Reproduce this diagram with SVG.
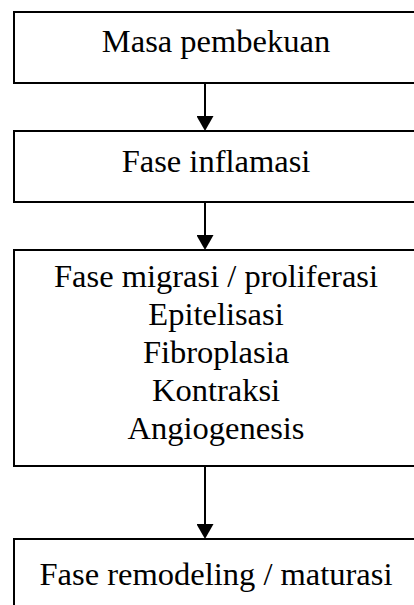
<svg xmlns="http://www.w3.org/2000/svg" width="414" height="605" viewBox="0 0 414 605">
<style>
.box{fill:#fff;stroke:#000;stroke-width:2}
.t{font-family:"Liberation Serif","Times New Roman",serif;font-size:32.5px;fill:#000;text-anchor:middle}
.line{stroke:#000;stroke-width:2;fill:none;marker-end:url(#ah)}
</style>
<defs>
<marker id="ah" markerUnits="userSpaceOnUse" markerWidth="15" markerHeight="17" refX="12" refY="8.5" orient="auto" viewBox="0 0 15 17">
<path d="M0,0 L15,8.5 L0,17 Z" fill="#000"/>
</marker>
</defs>
<rect width="414" height="605" fill="#fff"/>
<g id="connectors">
<line class="line" x1="205" y1="83" x2="205" y2="128"/>
<line class="line" x1="205" y1="202" x2="205" y2="247"/>
<line class="line" x1="205" y1="466" x2="205" y2="536"/>
</g>
<g id="n1">
<rect class="box" x="14" y="12" width="410" height="71"/>
<text class="t" x="216" y="52">Masa pembekuan</text>
</g>
<g id="n2">
<rect class="box" x="14" y="131" width="410" height="71"/>
<text class="t" x="216" y="172">Fase inflamasi</text>
</g>
<g id="n3">
<rect class="box" x="14" y="250" width="410" height="216"/>
<text class="t" x="216" y="287">Fase migrasi / proliferasi</text>
<text class="t" x="216" y="325">Epitelisasi</text>
<text class="t" x="216" y="363">Fibroplasia</text>
<text class="t" x="216" y="401">Kontraksi</text>
<text class="t" x="216" y="439">Angiogenesis</text>
</g>
<g id="n4">
<rect class="box" x="14" y="539" width="410" height="80"/>
<text class="t" x="216" y="585">Fase remodeling / maturasi</text>
</g>
</svg>
